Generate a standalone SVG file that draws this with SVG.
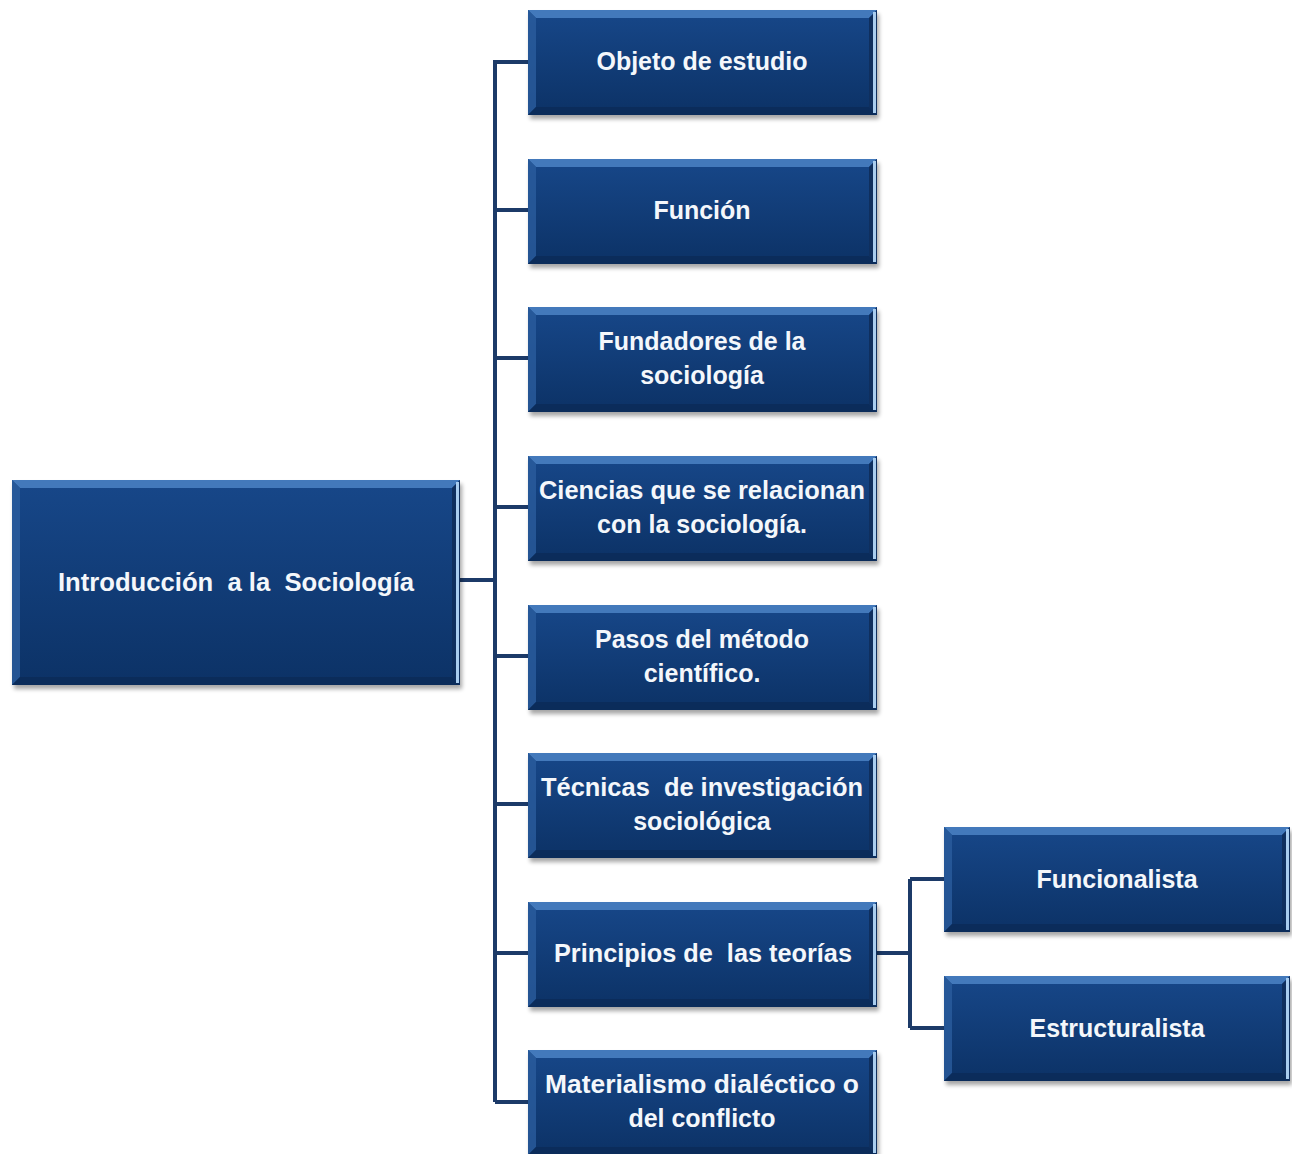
<svg xmlns="http://www.w3.org/2000/svg" width="1292" height="1154" viewBox="0 0 1292 1154">
<style>
.t{font-family:"Liberation Sans","DejaVu Sans",sans-serif;font-size:25px;font-weight:bold;fill:#f4f7fb;text-anchor:middle;white-space:pre;}
.c{fill:none;stroke:#1c3a68;stroke-width:4;}
.tb{fill:#4f86c8;opacity:0.8}
.lb{fill:#2a5c9e;opacity:0.8}
.rb{fill:#0f2f5e}
.bb{fill:#0b2a58;opacity:0.8}
.rl{fill:#a9cdef}
.sh{fill:#000;opacity:0.35;filter:url(#blur)}
.m{fill:url(#g)}
</style>
<defs>
<linearGradient id="g" x1="0" y1="0" x2="0" y2="1">
<stop offset="0" stop-color="#174789"/>
<stop offset="1" stop-color="#0c3266"/>
</linearGradient>
<filter id="blur" x="-10%" y="-10%" width="120%" height="130%"><feGaussianBlur stdDeviation="2"/></filter>
</defs>
<g id="connectors">
<path class="c" d="M460 580 H495 M495 60 V1102 M495 62 H528 M495 210 H528 M495 358 H528 M495 507 H528 M495 656 H528 M495 804 H528 M495 953 H528 M495 1102 H528"/>
<path class="c" d="M877 953 H910 M910 879 V1028 M910 879 H944 M910 1028 H944"/>
</g>
<g id="root">
<rect class="sh" x="14" y="484" width="448" height="205"/>
<rect class="m" x="12" y="480" width="448" height="205"/>
<polygon class="tb" points="12,480 460,480 452,488 20,488"/>
<polygon class="lb" points="12,480 20,488 20,677 12,685"/>
<polygon class="bb" points="12,685 460,685 452,677 20,677"/>
<polygon class="rb" points="460,480 460,685 452,677 452,488"/>
<rect class="rl" x="456" y="482" width="3" height="201"/>
<text class="t" x="236" y="591" textLength="356" lengthAdjust="spacingAndGlyphs">Introducción  a la  Sociología</text>
</g>
<g id="n1">
<rect class="sh" x="530" y="14" width="349" height="105"/>
<rect class="m" x="528" y="10" width="349" height="105"/>
<polygon class="tb" points="528,10 877,10 869,18 536,18"/>
<polygon class="lb" points="528,10 536,18 536,107 528,115"/>
<polygon class="bb" points="528,115 877,115 869,107 536,107"/>
<polygon class="rb" points="877,10 877,115 869,107 869,18"/>
<rect class="rl" x="873" y="12" width="3" height="101"/>
<text class="t" x="702" y="70">Objeto de estudio</text>
</g>
<g id="n2">
<rect class="sh" x="530" y="163" width="349" height="105"/>
<rect class="m" x="528" y="159" width="349" height="105"/>
<polygon class="tb" points="528,159 877,159 869,167 536,167"/>
<polygon class="lb" points="528,159 536,167 536,256 528,264"/>
<polygon class="bb" points="528,264 877,264 869,256 536,256"/>
<polygon class="rb" points="877,159 877,264 869,256 869,167"/>
<rect class="rl" x="873" y="161" width="3" height="101"/>
<text class="t" x="702" y="219">Función</text>
</g>
<g id="n3">
<rect class="sh" x="530" y="311" width="349" height="105"/>
<rect class="m" x="528" y="307" width="349" height="105"/>
<polygon class="tb" points="528,307 877,307 869,315 536,315"/>
<polygon class="lb" points="528,307 536,315 536,404 528,412"/>
<polygon class="bb" points="528,412 877,412 869,404 536,404"/>
<polygon class="rb" points="877,307 877,412 869,404 869,315"/>
<rect class="rl" x="873" y="309" width="3" height="101"/>
<text class="t" x="702" y="350">Fundadores de la</text>
<text class="t" x="702" y="384">sociología</text>
</g>
<g id="n4">
<rect class="sh" x="530" y="460" width="349" height="105"/>
<rect class="m" x="528" y="456" width="349" height="105"/>
<polygon class="tb" points="528,456 877,456 869,464 536,464"/>
<polygon class="lb" points="528,456 536,464 536,553 528,561"/>
<polygon class="bb" points="528,561 877,561 869,553 536,553"/>
<polygon class="rb" points="877,456 877,561 869,553 869,464"/>
<rect class="rl" x="873" y="458" width="3" height="101"/>
<text class="t" x="702" y="499" textLength="326" lengthAdjust="spacingAndGlyphs">Ciencias que se relacionan</text>
<text class="t" x="702" y="533">con la sociología.</text>
</g>
<g id="n5">
<rect class="sh" x="530" y="609" width="349" height="105"/>
<rect class="m" x="528" y="605" width="349" height="105"/>
<polygon class="tb" points="528,605 877,605 869,613 536,613"/>
<polygon class="lb" points="528,605 536,613 536,702 528,710"/>
<polygon class="bb" points="528,710 877,710 869,702 536,702"/>
<polygon class="rb" points="877,605 877,710 869,702 869,613"/>
<rect class="rl" x="873" y="607" width="3" height="101"/>
<text class="t" x="702" y="648">Pasos del método</text>
<text class="t" x="702" y="682">científico.</text>
</g>
<g id="n6">
<rect class="sh" x="530" y="757" width="349" height="105"/>
<rect class="m" x="528" y="753" width="349" height="105"/>
<polygon class="tb" points="528,753 877,753 869,761 536,761"/>
<polygon class="lb" points="528,753 536,761 536,850 528,858"/>
<polygon class="bb" points="528,858 877,858 869,850 536,850"/>
<polygon class="rb" points="877,753 877,858 869,850 869,761"/>
<rect class="rl" x="873" y="755" width="3" height="101"/>
<text class="t" x="702" y="796" textLength="322" lengthAdjust="spacingAndGlyphs">Técnicas  de investigación</text>
<text class="t" x="702" y="830">sociológica</text>
</g>
<g id="n7">
<rect class="sh" x="530" y="906" width="349" height="105"/>
<rect class="m" x="528" y="902" width="349" height="105"/>
<polygon class="tb" points="528,902 877,902 869,910 536,910"/>
<polygon class="lb" points="528,902 536,910 536,999 528,1007"/>
<polygon class="bb" points="528,1007 877,1007 869,999 536,999"/>
<polygon class="rb" points="877,902 877,1007 869,999 869,910"/>
<rect class="rl" x="873" y="904" width="3" height="101"/>
<text class="t" x="703" y="962" textLength="298" lengthAdjust="spacingAndGlyphs">Principios de  las teorías</text>
</g>
<g id="n8">
<rect class="sh" x="530" y="1054" width="349" height="105"/>
<rect class="m" x="528" y="1050" width="349" height="105"/>
<polygon class="tb" points="528,1050 877,1050 869,1058 536,1058"/>
<polygon class="lb" points="528,1050 536,1058 536,1147 528,1155"/>
<polygon class="bb" points="528,1155 877,1155 869,1147 536,1147"/>
<polygon class="rb" points="877,1050 877,1155 869,1147 869,1058"/>
<rect class="rl" x="873" y="1052" width="3" height="101"/>
<text class="t" x="702" y="1093" textLength="314" lengthAdjust="spacingAndGlyphs">Materialismo dialéctico o</text>
<text class="t" x="702" y="1127">del conflicto</text>
</g>
<g id="n9">
<rect class="sh" x="946" y="831" width="346" height="105"/>
<rect class="m" x="944" y="827" width="346" height="105"/>
<polygon class="tb" points="944,827 1290,827 1282,835 952,835"/>
<polygon class="lb" points="944,827 952,835 952,924 944,932"/>
<polygon class="bb" points="944,932 1290,932 1282,924 952,924"/>
<polygon class="rb" points="1290,827 1290,932 1282,924 1282,835"/>
<rect class="rl" x="1286" y="829" width="3" height="101"/>
<text class="t" x="1117" y="888">Funcionalista</text>
</g>
<g id="n10">
<rect class="sh" x="946" y="980" width="346" height="105"/>
<rect class="m" x="944" y="976" width="346" height="105"/>
<polygon class="tb" points="944,976 1290,976 1282,984 952,984"/>
<polygon class="lb" points="944,976 952,984 952,1073 944,1081"/>
<polygon class="bb" points="944,1081 1290,1081 1282,1073 952,1073"/>
<polygon class="rb" points="1290,976 1290,1081 1282,1073 1282,984"/>
<rect class="rl" x="1286" y="978" width="3" height="101"/>
<text class="t" x="1117" y="1037">Estructuralista</text>
</g>
</svg>
